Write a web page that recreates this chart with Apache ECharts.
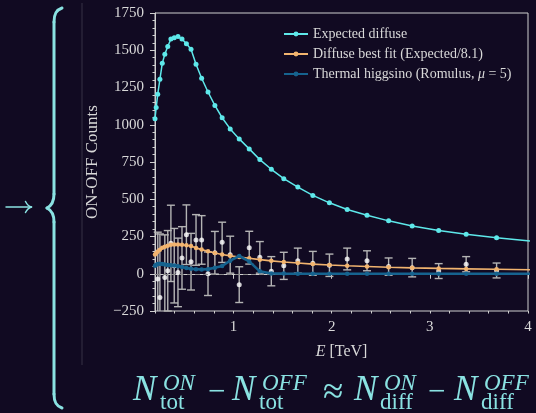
<!DOCTYPE html>
<html>
<head>
<meta charset="utf-8">
<script src="https://cdn.jsdelivr.net/npm/echarts@6/dist/echarts.min.js"></script>
<style>
  html, body { margin: 0; padding: 0; background: #110a22; }
  #chart { width: 536px; height: 413px; }
</style>
</head>
<body>
<div id="chart"></div>
<script>
// Energy bin centres (TeV) shared by the model curves
const energy = [0.200, 0.212, 0.228, 0.250, 0.274, 0.300, 0.330, 0.362, 0.396, 0.434,
                0.475, 0.520, 0.567, 0.618, 0.675, 0.740, 0.810, 0.884, 0.966, 1.058,
                1.160, 1.268, 1.385, 1.512, 1.655, 1.808, 1.977, 2.158, 2.360, 2.580,
                2.820, 3.090, 3.370, 3.680, 4.020];

// Expected diffuse ON-OFF counts
const expectedDiffuse = [1040, 1115, 1205, 1305, 1412, 1473, 1525, 1575, 1584, 1592,
                         1575, 1543, 1507, 1406, 1312, 1220, 1130, 1047, 972, 905,
                         838, 766, 701, 638, 582, 526, 476, 431, 393, 355,
                         321, 290, 265, 241, 220];

// Diffuse best fit (expected / 8.1)
const diffuseFit = [128.4, 137.7, 148.8, 161.1, 174.3, 181.9, 188.3, 194.4, 195.6, 196.5,
                    194.4, 190.5, 186.0, 173.6, 162.0, 150.6, 139.5, 129.3, 120.0, 111.7,
                    103.5, 94.6, 86.5, 78.8, 71.9, 64.9, 58.8, 53.2, 48.5, 43.8,
                    39.6, 35.8, 32.7, 29.8, 27.2];

// Thermal higgsino signal (Romulus, mu = 5)
const higgsino = [54, 60, 65, 67, 66, 62, 59, 57, 56, 51,
                  46, 38, 34, 31, 29, 31, 40, 52, 88, 119,
                  83, 16, 2, 1, 0.5, 0.3, 0.2, 0.1, 0.1, 0,
                  0, 0, 0, 0, 0];

// Measured ON-OFF counts with 1-sigma errors
const obsEnergy = [0.228, 0.250, 0.300, 0.330, 0.362, 0.396, 0.434, 0.475, 0.520, 0.567,
                   0.618, 0.675, 0.740, 0.810, 0.884, 0.966, 1.058, 1.160, 1.268, 1.385,
                   1.512, 1.655, 1.808, 1.977, 2.158, 2.360, 2.580, 2.820, 3.090, 3.370, 3.680];
const obsCounts = [-36, -160, -25, 20, 204, 54, 9, 106, 262, 81,
                   227, 227, 0, 141, 211, 128, -73, 175, 110, 17,
                   53, 88, 70, 57, 99, 87, 48, 41, 18, 64, 22];
const obsError = [315, 427, 286, 270, 256, 250, 230, 210, 200, 190,
                  170, 163, 146, 143, 135, 124, 120, 110, 106, 98,
                  91, 84, 80, 75, 73, 67, 58, 62, 50, 51, 50];

// Axis ticks
const yMin = -250, yMax = 1750, yStep = 250;
const xMin = 0.2, xMax = 4;
const xMajorTicks = [1, 2, 3, 4];

const SERIF = '"Liberation Serif", "DejaVu Serif", serif';
const TEXT = '#d9d9d9';
const AXIS = '#cfcfcf';
const CYAN_TXT = '#8ae2e2';

const pair = (xs, ys) => xs.map((x, i) => [x, ys[i]]);
const errRows = obsEnergy.map((e, i) => [e, obsCounts[i] - obsError[i], obsCounts[i] + obsError[i]]);

function renderErrorBar(params, api) {
  const e = api.value(0);
  const lo = api.coord([e, api.value(1)]);
  const hi = api.coord([e, api.value(2)]);
  const cs = params.coordSys;
  const top = Math.max(hi[1], cs.y);
  const bottom = Math.min(lo[1], cs.y + cs.height);
  const x = lo[0];
  const half = 4;
  const style = { stroke: '#b4b4b4', lineWidth: 1.4 };
  const children = [{ type: 'line', shape: { x1: x, y1: top, x2: x, y2: bottom }, style }];
  if (hi[1] >= cs.y) children.push({ type: 'line', shape: { x1: x - half, y1: hi[1], x2: x + half, y2: hi[1] }, style });
  if (lo[1] <= cs.y + cs.height) children.push({ type: 'line', shape: { x1: x - half, y1: lo[1], x2: x + half, y2: lo[1] }, style });
  return { type: 'group', children };
}

// Pieces of the relation written under the plot: [text, x, y, size, italic]
const formulaParts = [
  ['N', 133, 391, 35, true], ['ON', 163, 384, 23, true], ['tot', 160, 403, 23, false],
  ['\u2212', 208, 393, 31, false],
  ['N', 232, 391, 35, true], ['OFF', 262, 384, 23, true], ['tot', 259, 403, 23, false],
  ['\u2248', 323, 393, 37, false],
  ['N', 354, 391, 35, true], ['ON', 384, 384, 23, true], ['diff', 380, 403, 23, false],
  ['\u2212', 428, 393, 31, false],
  ['N', 454, 391, 35, true], ['OFF', 484, 384, 23, true], ['diff', 481, 403, 23, false]
];

const strokeStyle = w => ({ stroke: CYAN_TXT, fill: null, lineWidth: w, lineCap: 'round' });
const seg = (x1, y1, x2, y2, w) => ({ type: 'line', shape: { x1, y1, x2, y2 }, style: strokeStyle(w) });
const curve = (x1, y1, cpx1, cpy1, cpx2, cpy2, x2, y2, w) =>
  ({ type: 'bezierCurve', shape: { x1, y1, cpx1, cpy1, cpx2, cpy2, x2, y2 }, style: strokeStyle(w) });

const graphics = [
  // thin separator
  { type: 'line', shape: { x1: 82, y1: 3, x2: 82, y2: 365 }, style: { stroke: 'rgba(255,255,255,0.16)', lineWidth: 1 } },
  // arrow
  seg(6, 207, 31, 207, 1.5),
  curve(25.5, 201.5, 27.5, 205.5, 29.5, 206.5, 31.5, 207, 1.5),
  curve(31.5, 207, 29.5, 207.5, 27.5, 208.5, 25.5, 212.5, 1.5),
  // curly brace
  curve(62, 8, 56, 10, 54, 14, 54, 22, 3),
  seg(54, 22, 54, 194, 3),
  curve(54, 194, 54, 202, 51, 206, 47, 208, 3),
  curve(47, 208, 51, 210, 54, 214, 54, 222, 3),
  seg(54, 222, 54, 394, 3),
  curve(54, 394, 54, 402, 56, 406, 62, 408, 3)
].concat(formulaParts.map(([t, x, y, s, it]) => ({
  type: 'text', x, y,
  style: { text: t, fill: CYAN_TXT, font: (it ? 'italic ' : '') + s + 'px ' + SERIF, verticalAlign: 'middle', align: 'left' }
})));

const chart = echarts.init(document.getElementById('chart'), null, { renderer: 'canvas' });
chart.setOption({
  backgroundColor: '#110a22',
  animation: false,
  textStyle: { fontFamily: SERIF },
  grid: { left: 155, right: 8, top: 13, bottom: 102, show: true, borderColor: AXIS, borderWidth: 1, backgroundColor: 'transparent' },
  legend: {
    data: ['Expected diffuse', 'Diffuse best fit (Expected/8.1)', 'Thermal higgsino (Romulus, \u03bc = 5)'],
    orient: 'vertical', left: 278, top: 22,
    itemWidth: 24, itemHeight: 6, itemGap: 6,
    textStyle: {
      color: TEXT, fontSize: 14, fontFamily: SERIF,
      rich: { i: { fontStyle: 'italic', fontSize: 14, color: TEXT, fontFamily: SERIF } }
    },
    formatter: name => name.replace('\u03bc', '{i|\u03bc}')
  },
  xAxis: [{
    type: 'value', min: xMin, max: xMax, position: 'bottom',
    axisLine: { show: true, lineStyle: { color: AXIS, width: 1 } },
    axisTick: { show: true, customValues: xMajorTicks, length: 5, lineStyle: { color: AXIS } },
    axisLabel: { customValues: xMajorTicks, color: TEXT, fontSize: 15, fontFamily: SERIF, margin: 9 },
    splitLine: { show: false },
    name: '{i|E} [TeV]', nameLocation: 'middle', nameGap: 33,
    nameTextStyle: { color: TEXT, fontSize: 16, fontFamily: SERIF,
      rich: { i: { fontStyle: 'italic', fontSize: 16, color: TEXT, fontFamily: SERIF } } }
  }, {
    type: 'value', min: xMin, max: xMax, interval: 0.2, position: 'bottom',
    axisLine: { show: false },
    axisTick: { show: true, length: 2.5, lineStyle: { color: AXIS } },
    axisLabel: { show: false }, splitLine: { show: false }
  }],
  yAxis: {
    type: 'value', min: yMin, max: yMax, interval: yStep,
    axisLine: { show: true, lineStyle: { color: AXIS, width: 1 } },
    axisTick: { show: true, length: 5, lineStyle: { color: AXIS } },
    minorTick: { show: true, splitNumber: 5, length: 2.5, lineStyle: { color: AXIS } },
    axisLabel: { color: TEXT, fontSize: 15, fontFamily: SERIF, margin: 11, formatter: v => String(v).replace('-', '\u2212') },
    splitLine: { show: false },
    name: 'ON-OFF Counts', nameLocation: 'middle', nameGap: 54, nameRotate: 90,
    nameTextStyle: { color: TEXT, fontSize: 17, fontFamily: SERIF }
  },
  graphic: graphics,
  series: [{
    name: 'errors', type: 'custom', renderItem: renderErrorBar, data: errRows,
    encode: { x: 0, y: [1, 2] }, z: 2, silent: true
  }, {
    name: 'data', type: 'scatter', data: pair(obsEnergy, obsCounts),
    symbol: 'circle', symbolSize: 5, itemStyle: { color: '#ffffff' }, z: 3
  }, {
    name: 'Expected diffuse', type: 'line', data: pair(energy, expectedDiffuse),
    symbol: 'circle', symbolSize: 5, showSymbol: true,
    lineStyle: { color: '#5ee8ea', width: 1.5 }, itemStyle: { color: '#5ee8ea' }, z: 4, clip: true
  }, {
    name: 'Diffuse best fit (Expected/8.1)', type: 'line', data: pair(energy, diffuseFit),
    symbol: 'circle', symbolSize: 4.5,
    lineStyle: { color: '#f2b46f', width: 1.6 }, itemStyle: { color: '#f2b46f' }, z: 5, clip: true
  }, {
    name: 'Thermal higgsino (Romulus, \u03bc = 5)', type: 'line', data: pair(energy, higgsino),
    symbol: 'circle', symbolSize: 4.5,
    lineStyle: { color: '#16638f', width: 2.6 }, itemStyle: { color: '#16638f' }, z: 6, clip: true,
    markLine: {
      silent: true, symbol: 'none', label: { show: false },
      lineStyle: { color: '#8c8c8c', type: [5, 3], width: 1 },
      data: [{ yAxis: 0 }]
    }
  }]
});
</script>
</body>
</html>
